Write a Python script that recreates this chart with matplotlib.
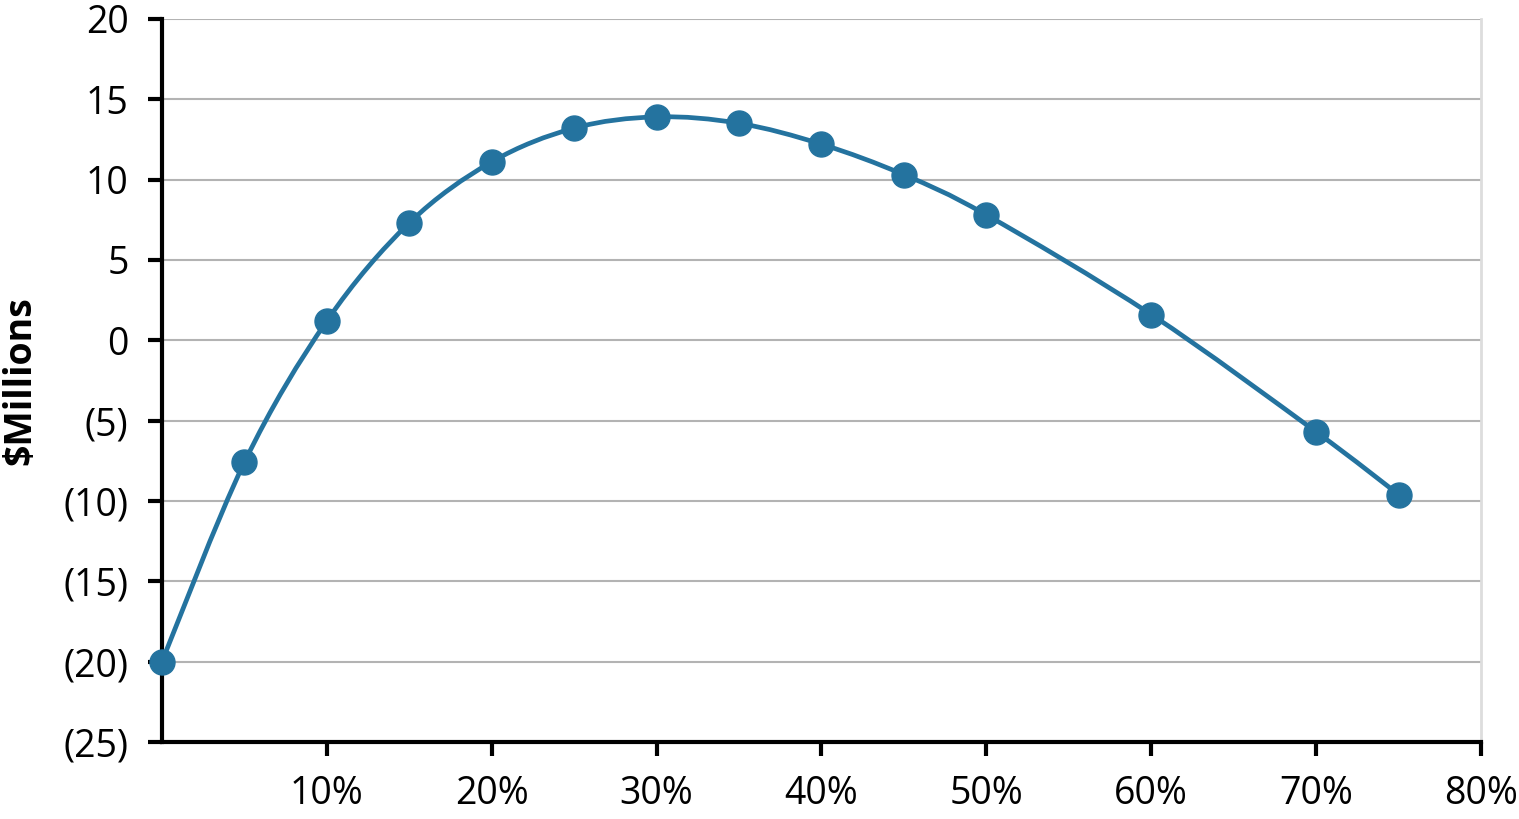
import numpy as np
import matplotlib.pyplot as plt
from matplotlib.path import Path
import matplotlib.patches as mpatches

plt.rcParams['font.family'] = ['Open Sans', 'DejaVu Sans']

# дані з графіка
rate_pct = [0, 5, 10, 15, 20, 25, 30, 35, 40, 45, 50, 60, 70, 75]
npv_millions = [-20.0, -7.6, 1.2, 7.3, 11.1, 13.2, 13.9, 13.5, 12.2, 10.3, 7.8, 1.6, -5.7, -9.6]
y_ticks = [20, 15, 10, 5, 0, -5, -10, -15, -20, -25]
y_tick_labels = ['20', '15', '10', '5', '0', '(5)', '(10)', '(15)', '(20)', '(25)']
x_ticks = [10, 20, 30, 40, 50, 60, 70, 80]
x_tick_labels = ['10%', '20%', '30%', '40%', '50%', '60%', '70%', '80%']

color = '#24739f'


def smooth_path(xs, ys, t=1/6):
    """Згладжена лінія як у Excel: криві Безьє через точки (Catmull-Rom)"""
    pts = np.column_stack([xs, ys]).astype(float)
    verts = [pts[0]]
    codes = [Path.MOVETO]
    n = len(pts)
    for i in range(n - 1):
        p0 = pts[i - 1] if i > 0 else pts[i]
        p1 = pts[i]
        p2 = pts[i + 1]
        p3 = pts[i + 2] if i + 2 < n else pts[i + 1]
        c1 = p1 + (p2 - p0) * t
        c2 = p2 - (p3 - p1) * t
        verts += [c1, c2, p2]
        codes += [Path.CURVE4] * 3
    return Path(verts, codes)


fig = plt.figure(figsize=(15.19, 8.19), dpi=100)
ax = fig.add_axes([0.1066, 0.094, 0.8684, 0.883])

patch = mpatches.PathPatch(smooth_path(rate_pct, npv_millions), facecolor='none',
                           edgecolor=color, lw=3.4, zorder=3, clip_on=False)
ax.add_patch(patch)
ax.plot(rate_pct, npv_millions, 'o', color=color, markersize=18, zorder=4, clip_on=False)

ax.set_xlim(0, 80)
ax.set_ylim(-25, 20)
ax.set_yticks(y_ticks)
ax.set_yticklabels(y_tick_labels)
ax.set_xticks(x_ticks)
ax.set_xticklabels(x_tick_labels)

ax.yaxis.grid(True, color='#b3b3b3', lw=1.5)
ax.set_axisbelow(True)

for s in ['left', 'bottom']:
    ax.spines[s].set_linewidth(3)
    ax.spines[s].set_color('black')
ax.spines['top'].set_visible(False)
ax.spines['right'].set_color('#dddddd')
ax.spines['right'].set_linewidth(2)

ax.tick_params(axis='both', direction='out', length=10, width=3, labelsize=27)
ax.tick_params(axis='y', pad=14)
ax.tick_params(axis='x', pad=14)

ax.set_ylabel('$Millions', fontsize=27, fontweight='bold', labelpad=20)
ax.yaxis.set_label_coords(-0.093, 0.5)

plt.savefig('out.png', dpi=100)
